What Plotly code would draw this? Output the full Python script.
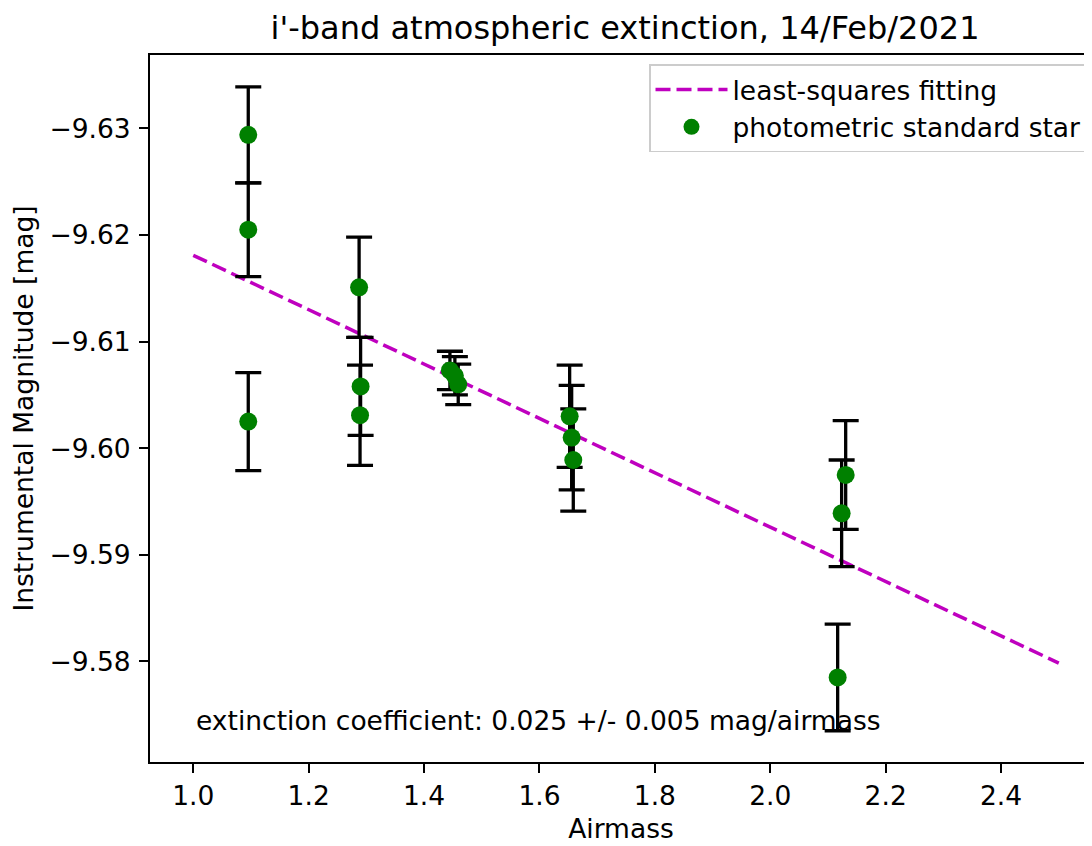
import plotly.graph_objects as go

# ---- data ----
airmass = [1.0953, 1.0953, 1.0953,
           1.2874, 1.2900, 1.2890,
           1.4448, 1.4534, 1.4592,
           1.6523, 1.6558, 1.6586,
           2.1307, 2.1237, 2.1168]
inst_mag = [-9.6294, -9.6205, -9.6025,
            -9.6151, -9.6058, -9.6031,
            -9.6073, -9.6068, -9.6060,
            -9.6030, -9.6010, -9.5989,
            -9.5975, -9.5939, -9.5785]
mag_err = [0.0045, 0.0044, 0.0046,
           0.0047, 0.0046, 0.0047,
           0.0018, 0.0018, 0.0019,
           0.0048, 0.0049, 0.0048,
           0.0051, 0.0050, 0.0050]

fit_airmass = [1.0, 2.5]
fit_slope = 0.0255
fit_intercept = -9.6436
fit_mag = [fit_intercept + fit_slope * a for a in fit_airmass]

x_tick_vals = [1.0, 1.2, 1.4, 1.6, 1.8, 2.0, 2.2, 2.4]
x_tick_text = ["1.0", "1.2", "1.4", "1.6", "1.8", "2.0", "2.2", "2.4"]
y_tick_vals = [-9.63, -9.62, -9.61, -9.60, -9.59, -9.58]
y_tick_text = ["\u22129.63", "\u22129.62", "\u22129.61", "\u22129.60", "\u22129.59", "\u22129.58"]

title_text = "i'-band atmospheric extinction, 14/Feb/2021"
note_text = "extinction coefficient: 0.025 +/- 0.005 mag/airmass"

FONT = "DejaVu Sans"
FS = 26.5

fig = go.Figure()

fig.add_trace(go.Scatter(
    x=fit_airmass, y=fit_mag, mode="lines",
    name="least-squares fitting",
    line=dict(color="#bf00bf", width=3.5, dash="15px,6px"),
))

fig.add_trace(go.Scatter(
    x=airmass, y=inst_mag, mode="markers",
    name="photometric standard star",
    marker=dict(color="#008000", size=18, line=dict(width=0)),
    error_y=dict(type="data", array=mag_err, visible=True,
                 color="black", thickness=3.3, width=13),
))

fig.add_annotation(
    x=1.0, y=-9.5745, xref="x", yref="y",
    text=note_text, showarrow=False,
    xanchor="left", yanchor="middle", xshift=1,
    font=dict(family=FONT, size=FS, color="black"),
)

fig.update_layout(
    width=1084, height=838,
    margin=dict(l=142, r=0, t=47, b=84),
    paper_bgcolor="white", plot_bgcolor="white",
    font=dict(family=FONT, size=FS, color="black"),
    title=dict(text=title_text, x=0.5043, xref="paper", xanchor="center",
               y=1 - 20 / 838, yref="container", yanchor="middle",
               font=dict(family=FONT, size=32, color="black")),
    legend=dict(x=0.9947, y=0.987, xanchor="right", yanchor="top",
                bgcolor="rgba(255,255,255,0.8)", bordercolor="#cccccc",
                borderwidth=1.5, font=dict(family=FONT, size=FS),
                itemwidth=72),
    showlegend=True,
)

fig.update_xaxes(
    range=[0.925, 2.5576],
    tickvals=x_tick_vals, ticktext=x_tick_text,
    showgrid=False, zeroline=False,
    showline=True, mirror=True, linecolor="black", linewidth=2,
    ticks="outside", ticklen=9, tickwidth=2, tickcolor="black",
    tickfont=dict(family=FONT, size=FS),
    title=dict(text="Airmass", font=dict(family=FONT, size=FS), standoff=10),
)

fig.update_yaxes(
    range=[-9.57057, -9.63689],
    tickvals=y_tick_vals, ticktext=y_tick_text,
    showgrid=False, zeroline=False,
    showline=True, mirror=False, linecolor="black", linewidth=2,
    ticks="outside", ticklen=9, tickwidth=2, tickcolor="black",
    tickfont=dict(family=FONT, size=FS), ticklabelstandoff=3,
    title=dict(text="Instrumental Magnitude [mag]", font=dict(family=FONT, size=FS), standoff=12),
)

fig.write_html("out.html")
